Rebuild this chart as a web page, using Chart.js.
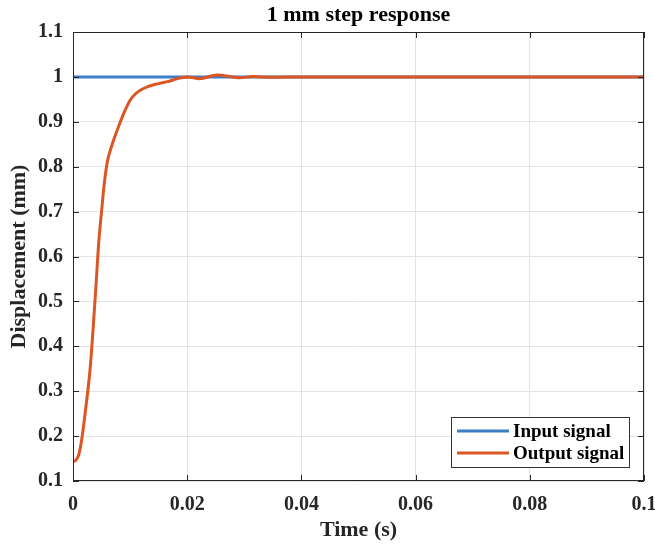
<!DOCTYPE html>
<html>
<head>
<meta charset="utf-8">
<title>1 mm step response</title>
<script src="https://cdn.jsdelivr.net/npm/chart.js@4.4.1/dist/chart.umd.min.js"></script>
<style>
  html, body { margin: 0; padding: 0; background: #fff; }
  #wrap { width: 655px; height: 547px; }
</style>
</head>
<body>
<div id="wrap"><canvas id="stepChart"></canvas></div>
<script>
// time axis (s) and measured displacement (mm)
const timeS = [
  0, 0.0005, 0.001, 0.0015, 0.002, 0.0025, 0.003, 0.0035, 0.004, 0.0045,
  0.005, 0.0055, 0.006, 0.0065, 0.007, 0.008, 0.009, 0.010, 0.011, 0.012,
  0.013, 0.014, 0.015, 0.016, 0.017, 0.018, 0.019, 0.020, 0.0222, 0.0252,
  0.0292, 0.0315, 0.035, 0.040, 0.045, 0.050, 0.060, 0.070, 0.080, 0.090,
  0.100
];
const outputMm = [
  0.143, 0.146, 0.158, 0.19, 0.238, 0.29, 0.35, 0.435, 0.53, 0.63,
  0.70, 0.765, 0.81, 0.835, 0.855, 0.89, 0.922, 0.948, 0.963, 0.972,
  0.978, 0.982, 0.985, 0.988, 0.991, 0.995, 0.998, 1.0, 0.996, 1.0045,
  0.998, 1.001, 0.999, 1.0, 1.0, 1.0, 1.0, 1.0, 1.0, 1.0,
  1.0
];
const inputTime = [0, 0.1];
const inputMm = [1, 1];

const xTicks = [0, 0.02, 0.04, 0.06, 0.08, 0.1];
const yTicks = [0.1, 0.2, 0.3, 0.4, 0.5, 0.6, 0.7, 0.8, 0.9, 1, 1.1];

const seriesNames = ["Input signal", "Output signal"];
const seriesColors = ["#3c7fc6", "#dc5623"];

const serif = "'Liberation Serif', 'Times New Roman', serif";

function pairs(xs, ys) {
  return xs.map((x, i) => ({ x: x, y: ys[i] }));
}

function fmt(v) {
  return String(parseFloat(v.toFixed(3)));
}

// box round the plot with inward tick marks on every side
const frame = {
  id: "frame",
  afterDraw(chart) {
    const ctx = chart.ctx;
    const a = chart.chartArea;
    const xs = chart.scales.x, ys = chart.scales.y;
    const len = 6;
    ctx.save();
    ctx.strokeStyle = "#262626";
    ctx.lineWidth = 1;
    ctx.strokeRect(a.left + 0.5, a.top + 0.5, a.right - a.left - 1, a.bottom - a.top - 1);
    ctx.beginPath();
    xTicks.forEach(v => {
      const px = Math.round(xs.getPixelForValue(v)) + 0.5;
      ctx.moveTo(px, a.bottom); ctx.lineTo(px, a.bottom - len);
      ctx.moveTo(px, a.top); ctx.lineTo(px, a.top + len);
    });
    yTicks.forEach(v => {
      const py = Math.round(ys.getPixelForValue(v)) + 0.5;
      ctx.moveTo(a.left, py); ctx.lineTo(a.left + len, py);
      ctx.moveTo(a.right, py); ctx.lineTo(a.right - len, py);
    });
    ctx.stroke();
    ctx.restore();
  }
};

// legend box in the lower right corner of the plot
const cornerLegend = {
  id: "cornerLegend",
  afterDraw(chart) {
    const ctx = chart.ctx;
    const a = chart.chartArea;
    const w = 178, h = 50;
    const x0 = a.right - 15 - w, y0 = a.bottom - 14 - h;
    ctx.save();
    ctx.fillStyle = "#fff";
    ctx.fillRect(x0, y0, w, h);
    ctx.strokeStyle = "#333";
    ctx.lineWidth = 1;
    ctx.strokeRect(x0 + 0.5, y0 + 0.5, w, h);
    ctx.font = "bold 19px " + serif;
    ctx.textBaseline = "middle";
    seriesNames.forEach((name, i) => {
      const cy = y0 + 14 + i * 22;
      ctx.strokeStyle = seriesColors[i];
      ctx.lineWidth = 3;
      ctx.beginPath();
      ctx.moveTo(x0 + 6, cy);
      ctx.lineTo(x0 + 58, cy);
      ctx.stroke();
      ctx.fillStyle = "#000";
      ctx.fillText(name, x0 + 62, cy + 1);
    });
    ctx.restore();
  }
};

new Chart(document.getElementById("stepChart"), {
  type: "line",
  data: {
    datasets: [
      {
        label: seriesNames[0],
        data: pairs(inputTime, inputMm),
        borderColor: seriesColors[0],
        borderWidth: 3,
        pointRadius: 0,
        order: 2
      },
      {
        label: seriesNames[1],
        data: pairs(timeS, outputMm),
        borderColor: seriesColors[1],
        borderWidth: 3,
        pointRadius: 0,
        cubicInterpolationMode: "monotone",
        order: 1
      }
    ]
  },
  options: {
    responsive: true,
    maintainAspectRatio: false,
    animation: false,
    layout: {
      autoPadding: false,
      padding: { top: 0, right: 11, bottom: 0, left: 0 }
    },
    scales: {
      x: {
        type: "linear",
        min: 0,
        max: 0.1,
        afterBuildTicks(s) { s.ticks = xTicks.map(v => ({ value: v })); },
        afterFit(s) { s.height = 66; s.paddingLeft = 0; s.paddingRight = 0; },
        grid: { color: "#e3e3e3", drawTicks: false },
        border: { display: false },
        ticks: {
          padding: 12,
          color: "#262626",
          font: { family: serif, size: 20, weight: "bold" },
          maxRotation: 0,
          callback: v => fmt(v)
        },
        title: {
          display: true,
          text: "Time (s)",
          color: "#262626",
          font: { family: serif, size: 22, weight: "bold" },
          padding: { top: 2, bottom: 3 }
        }
      },
      y: {
        min: 0.1,
        max: 1.1,
        afterBuildTicks(s) { s.ticks = yTicks.map(v => ({ value: v })); },
        afterFit(s) { s.width = 73; },
        grid: { color: "#e3e3e3", drawTicks: false },
        border: { display: false },
        ticks: {
          padding: 10,
          color: "#262626",
          font: { family: serif, size: 20, weight: "bold" },
          callback: v => fmt(v)
        },
        title: {
          display: true,
          text: "Displacement (mm)",
          color: "#262626",
          font: { family: serif, size: 22, weight: "bold" },
          padding: { top: 6, bottom: 0 }
        }
      }
    },
    plugins: {
      legend: { display: false },
      tooltip: { enabled: false },
      title: {
        display: true,
        fullSize: false,
        text: "1 mm step response",
        color: "#000",
        font: { family: serif, size: 22, weight: "bold" },
        padding: { top: 2.3, bottom: 3.3 }
      }
    }
  },
  plugins: [frame, cornerLegend]
});
</script>
</body>
</html>
